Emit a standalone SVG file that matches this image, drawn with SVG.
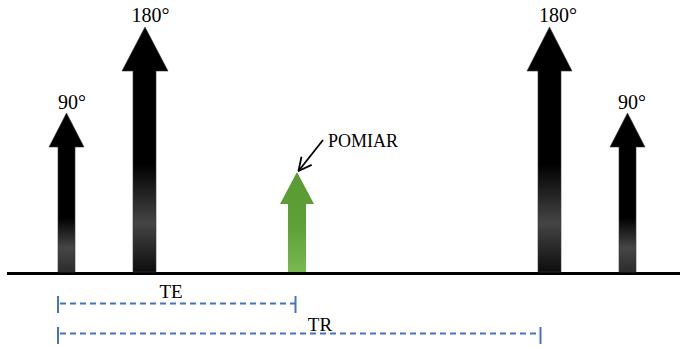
<svg xmlns="http://www.w3.org/2000/svg" width="680" height="347" viewBox="0 0 680 347">
  <defs>
    <!-- shaded fill for the tall black pulses -->
    <linearGradient id="gradTall" x1="0" y1="0" x2="0" y2="1">
      <stop offset="0" stop-color="#000"/>
      <stop offset="0.56" stop-color="#000"/>
      <stop offset="0.8" stop-color="#454545"/>
      <stop offset="1" stop-color="#0d0d0d"/>
    </linearGradient>
    <!-- shaded fill for the short black pulses -->
    <linearGradient id="gradShort" x1="0" y1="0" x2="0" y2="1">
      <stop offset="0" stop-color="#000"/>
      <stop offset="0.66" stop-color="#000"/>
      <stop offset="0.85" stop-color="#464646"/>
      <stop offset="1" stop-color="#2c2c2c"/>
    </linearGradient>
    <!-- green measurement pulse -->
    <linearGradient id="gradGreen" x1="0" y1="0" x2="0" y2="1">
      <stop offset="0" stop-color="#5a9a33"/>
      <stop offset="0.55" stop-color="#5fa037"/>
      <stop offset="1" stop-color="#7ab852"/>
    </linearGradient>
    <marker id="openHead" viewBox="0 0 16 16" refX="15" refY="8" markerWidth="16" markerHeight="16" markerUnits="userSpaceOnUse" orient="auto">
      <path d="M2,1.5 L15,8 L2,14.5" fill="none" stroke="#000" stroke-width="1.8"/>
    </marker>
  </defs>
  <style>
    .lbl { font-family: "Liberation Serif", "Times New Roman", serif; font-size: 20px; fill: #000; }
    .span { stroke: #4472c4; stroke-width: 2; fill: none; }
    .dash { stroke-dasharray: 6 4; stroke-width: 1.8; }
    .pulse { stroke: #3a3a3a; stroke-width: 0.6; }
  </style>

  <rect width="680" height="347" fill="#fff"/>

  <!-- time axis -->
  <rect id="axis" x="7" y="272" width="673" height="3" fill="#000"/>

  <g id="pulse90a">
    <path class="pulse" d="M58,272 V147 H49 L66.5,113 L84,147 H75 V272 Z" fill="url(#gradShort)"/>
    <text class="lbl" x="72" y="109" text-anchor="middle">90°</text>
  </g>

  <g id="pulse180a">
    <path class="pulse" d="M133,272 V71 H122 L145,27 L168,71 H156 V272 Z" fill="url(#gradTall)"/>
    <text class="lbl" x="150.5" y="22" text-anchor="middle">180°</text>
  </g>

  <g id="pomiar">
    <path d="M288,272 V204 H280 L297,172 L314,204 H306 V272 Z" fill="url(#gradGreen)"/>
    <text class="lbl" x="328" y="147" style="font-size:18px">POMIAR</text>
  </g>

  <g id="pulse180b">
    <path class="pulse" d="M538,272 V71 H527 L549.5,27 L572,71 H561 V272 Z" fill="url(#gradTall)"/>
    <text class="lbl" x="558" y="22" text-anchor="middle">180°</text>
  </g>

  <g id="pulse90b">
    <path class="pulse" d="M619,272 V147 H610 L627.5,113 L645,147 H636 V272 Z" fill="url(#gradShort)"/>
    <text class="lbl" x="632" y="109" text-anchor="middle">90°</text>
  </g>

  <g id="spanTE">
    <line class="span" x1="58" y1="296" x2="58" y2="313"/>
    <line class="span" x1="295.5" y1="296" x2="295.5" y2="313"/>
    <line class="span dash" x1="60" y1="303.5" x2="295" y2="303.5"/>
    <text class="lbl" x="171" y="298" text-anchor="middle" style="font-size:19px">TE</text>
  </g>

  <g id="spanTR">
    <line class="span" x1="58" y1="327" x2="58" y2="344"/>
    <line class="span" x1="540.5" y1="327" x2="540.5" y2="344"/>
    <line class="span dash" x1="60" y1="333.5" x2="540" y2="333.5"/>
    <text class="lbl" x="320" y="331" text-anchor="middle" style="font-size:19px">TR</text>
  </g>

  <g id="connectors">
    <line x1="323" y1="140" x2="298.5" y2="171" stroke="#000" stroke-width="1.8" marker-end="url(#openHead)"/>
  </g>
</svg>
